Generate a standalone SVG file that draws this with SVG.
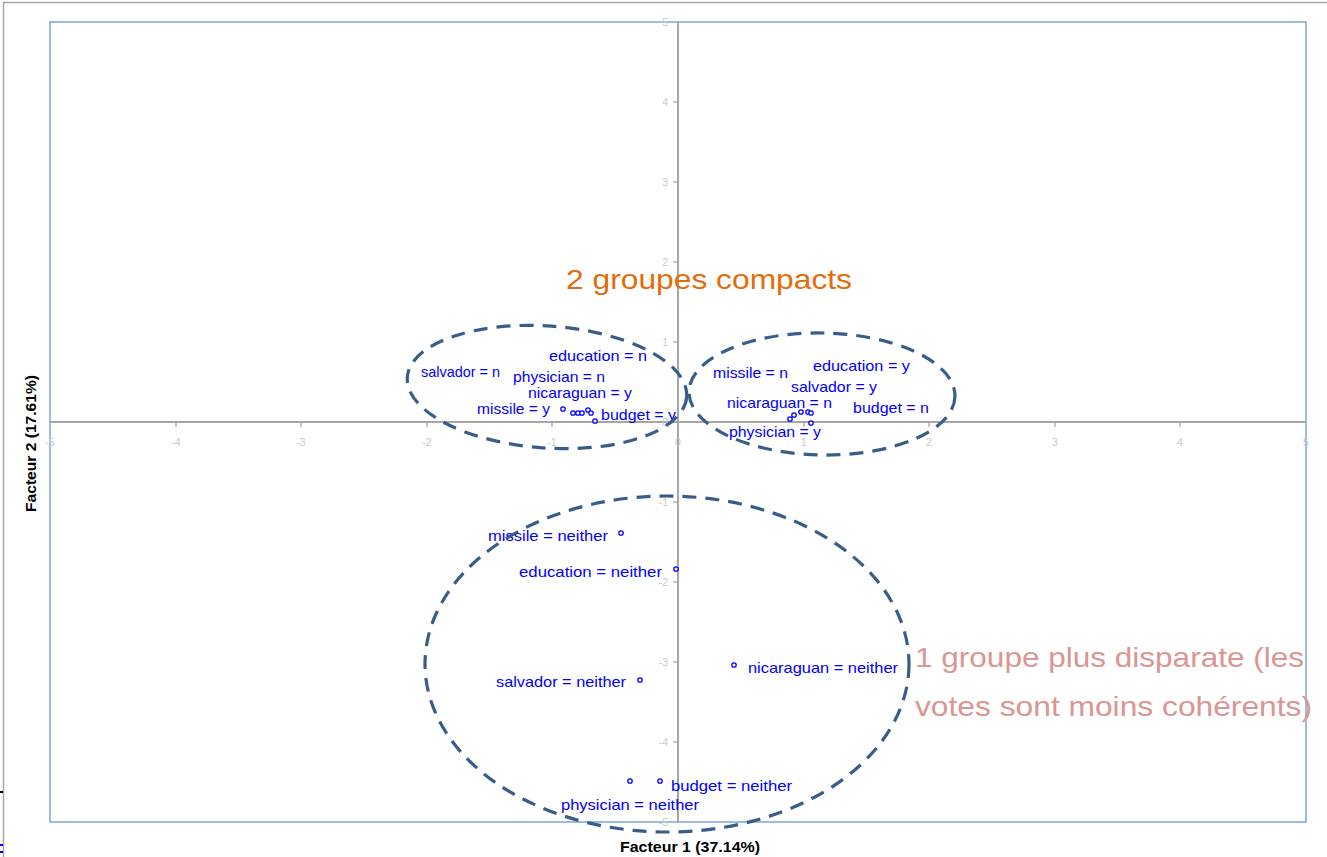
<svg xmlns="http://www.w3.org/2000/svg" width="1327" height="857" viewBox="0 0 1327 857">
<style>
.frame{stroke:#A6A6A6;stroke-width:1.5;fill:none}
.plot{fill:none;stroke:#6A98D0;stroke-width:1.3}
.axis{stroke:#A6A6A6;stroke-width:2;fill:none}
.tick{stroke:#A6A6A6;stroke-width:1.3}
.tl{font-family:"Liberation Sans",Arial,sans-serif;font-size:10.5px;fill:#C8C8C8}
.lab{font-family:"Liberation Sans",Arial,sans-serif;font-size:14.5px;fill:#0000FF}
.pt{fill:#fff;stroke:#0000FF;stroke-width:1.3}
.ell{fill:none;stroke:#385D8A;stroke-width:3.2;stroke-dasharray:14 9}
.title{font-family:"Liberation Sans",Arial,sans-serif;font-size:14.5px;font-weight:bold;fill:#000}
.big{font-family:"Liberation Sans",Arial,sans-serif;font-size:28.5px}
</style>
<rect width="1327" height="857" fill="#fff"/>
<g id="frame">
<line class="frame" x1="3" y1="2.5" x2="1327" y2="2.5"/>
<line class="frame" x1="3.5" y1="2" x2="3.5" y2="857"/>
<line x1="0" y1="792" x2="3" y2="792" stroke="#000" stroke-width="2"/>
<line x1="0" y1="845" x2="3" y2="845" stroke="#0000FF" stroke-width="2"/>
<line x1="0" y1="852" x2="3" y2="852" stroke="#0000FF" stroke-width="2"/>
</g>
<g id="plot-area">
<rect class="plot" x="50" y="22" width="1256" height="800"/>
</g>
<g id="axes">
<line class="axis" x1="50" y1="422" x2="1306" y2="422"/>
<line class="axis" x1="678" y1="22" x2="678" y2="822"/>
<g class="tick">
<line x1="176" y1="422" x2="176" y2="427"/>
<line x1="301" y1="422" x2="301" y2="427"/>
<line x1="427" y1="422" x2="427" y2="427"/>
<line x1="552" y1="422" x2="552" y2="427"/>
<line x1="804" y1="422" x2="804" y2="427"/>
<line x1="929" y1="422" x2="929" y2="427"/>
<line x1="1055" y1="422" x2="1055" y2="427"/>
<line x1="1180" y1="422" x2="1180" y2="427"/>
<line x1="673" y1="102" x2="678" y2="102"/>
<line x1="673" y1="182" x2="678" y2="182"/>
<line x1="673" y1="262" x2="678" y2="262"/>
<line x1="673" y1="342" x2="678" y2="342"/>
<line x1="673" y1="502" x2="678" y2="502"/>
<line x1="673" y1="582" x2="678" y2="582"/>
<line x1="673" y1="662" x2="678" y2="662"/>
<line x1="673" y1="742" x2="678" y2="742"/>
</g>
<g class="tl" text-anchor="middle">
<text x="50" y="446">-5</text>
<text x="176" y="446">-4</text>
<text x="301" y="446">-3</text>
<text x="427" y="446">-2</text>
<text x="552" y="446">-1</text>
<text x="678" y="446">0</text>
<text x="804" y="446">1</text>
<text x="929" y="446">2</text>
<text x="1055" y="446">3</text>
<text x="1180" y="446">4</text>
<text x="1306" y="446">5</text>
</g>
<g class="tl" text-anchor="end">
<text x="668" y="26">5</text>
<text x="668" y="106">4</text>
<text x="668" y="186">3</text>
<text x="668" y="266">2</text>
<text x="668" y="346">1</text>
<text x="668" y="426">0</text>
<text x="668" y="506">-1</text>
<text x="668" y="586">-2</text>
<text x="668" y="666">-3</text>
<text x="668" y="746">-4</text>
<text x="668" y="826">-5</text>
</g>
<text class="title" x="620" y="852" textLength="140" lengthAdjust="spacingAndGlyphs">Facteur 1 (37.14%)</text>
<text class="title" transform="translate(36,512) rotate(-90)" textLength="137" lengthAdjust="spacingAndGlyphs">Facteur 2 (17.61%)</text>
</g>
<g id="points">
<circle class="pt" cx="563" cy="409" r="2.2"/>
<circle class="pt" cx="573" cy="413" r="2.2"/>
<circle class="pt" cx="578" cy="413" r="2.2"/>
<circle class="pt" cx="582" cy="413" r="2.2"/>
<circle class="pt" cx="588" cy="410" r="2.2"/>
<circle class="pt" cx="591" cy="413" r="2.2"/>
<circle class="pt" cx="595" cy="421" r="2.2"/>
<circle class="pt" cx="790" cy="419" r="2.2"/>
<circle class="pt" cx="794" cy="415" r="2.2"/>
<circle class="pt" cx="801" cy="412" r="2.2"/>
<circle class="pt" cx="808" cy="412" r="2.2"/>
<circle class="pt" cx="811" cy="413" r="2.2"/>
<circle class="pt" cx="811" cy="423" r="2.2"/>
<circle class="pt" cx="621" cy="533" r="2.2"/>
<circle class="pt" cx="676" cy="569" r="2.2"/>
<circle class="pt" cx="640" cy="680" r="2.2"/>
<circle class="pt" cx="734" cy="665" r="2.2"/>
<circle class="pt" cx="660" cy="781" r="2.2"/>
<circle class="pt" cx="630" cy="781" r="2.2"/>
</g>
<g id="labels" class="lab">
<text x="549" y="361" textLength="98" lengthAdjust="spacingAndGlyphs">education = n</text>
<text x="421" y="377" textLength="79" lengthAdjust="spacingAndGlyphs">salvador = n</text>
<text x="513" y="382" textLength="92" lengthAdjust="spacingAndGlyphs">physician = n</text>
<text x="528" y="398" textLength="104" lengthAdjust="spacingAndGlyphs">nicaraguan = y</text>
<text x="477" y="414" textLength="73" lengthAdjust="spacingAndGlyphs">missile = y</text>
<text x="601" y="420" textLength="75" lengthAdjust="spacingAndGlyphs">budget = y</text>
<text x="713" y="378" textLength="75" lengthAdjust="spacingAndGlyphs">missile = n</text>
<text x="813" y="371" textLength="97" lengthAdjust="spacingAndGlyphs">education = y</text>
<text x="791" y="392" textLength="86" lengthAdjust="spacingAndGlyphs">salvador = y</text>
<text x="727" y="408" textLength="105" lengthAdjust="spacingAndGlyphs">nicaraguan = n</text>
<text x="853" y="413" textLength="76" lengthAdjust="spacingAndGlyphs">budget = n</text>
<text x="729" y="437" textLength="92" lengthAdjust="spacingAndGlyphs">physician = y</text>
<text x="488" y="541" textLength="120" lengthAdjust="spacingAndGlyphs">missile = neither</text>
<text x="519" y="577" textLength="143" lengthAdjust="spacingAndGlyphs">education = neither</text>
<text x="496" y="687" textLength="130" lengthAdjust="spacingAndGlyphs">salvador = neither</text>
<text x="748" y="673" textLength="150" lengthAdjust="spacingAndGlyphs">nicaraguan = neither</text>
<text x="671" y="791" textLength="121" lengthAdjust="spacingAndGlyphs">budget = neither</text>
<text x="561" y="810" textLength="138" lengthAdjust="spacingAndGlyphs">physician = neither</text>
</g>
<g id="groups">
<ellipse class="ell" cx="547" cy="387" rx="140" ry="61" transform="rotate(4 547 387)"/>
<ellipse class="ell" cx="822" cy="394" rx="133" ry="61" transform="rotate(1 822 394)"/>
<ellipse class="ell" cx="667" cy="664" rx="242" ry="168"/>
</g>
<g id="annotations" class="big">
<text x="566" y="289" fill="#E46C0A" textLength="286" lengthAdjust="spacingAndGlyphs">2 groupes compacts</text>
<text x="915" y="667" fill="#D99694" textLength="389" lengthAdjust="spacingAndGlyphs">1 groupe plus disparate (les</text>
<text x="915" y="716" fill="#D99694" textLength="397" lengthAdjust="spacingAndGlyphs">votes sont moins cohérents)</text>
</g>
</svg>
